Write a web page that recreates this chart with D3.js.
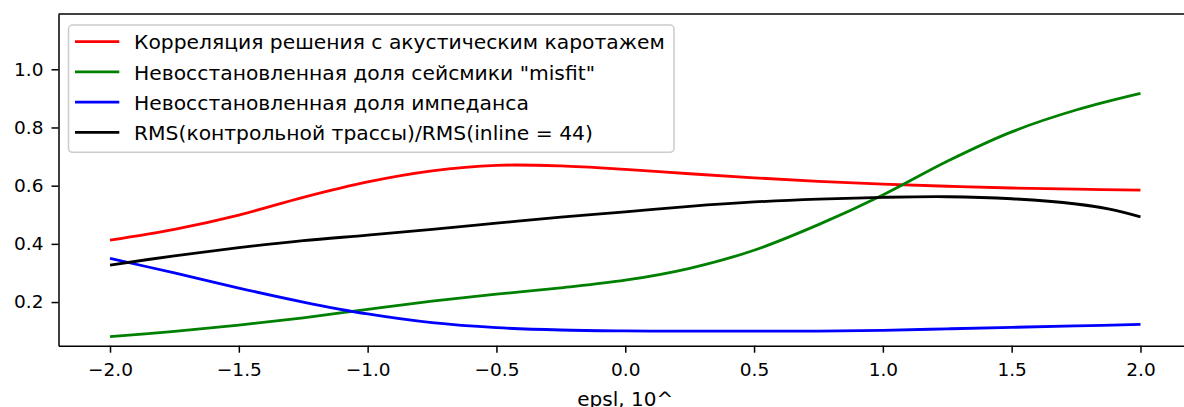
<!DOCTYPE html>
<html>
<head>
<meta charset="utf-8">
<script src="https://cdn.jsdelivr.net/npm/d3@7"></script>
<style>
  body { margin: 0; background: #fff; }
  svg { display: block; font-family: "DejaVu Sans", sans-serif; }
</style>
</head>
<body>
<div id="chart"></div>
<script>
// --- Data ---
const xs = [-2, -1.75, -1.5, -1.25, -1, -0.75, -0.5, -0.25, 0, 0.25, 0.5, 0.75, 1, 1.25, 1.5, 1.75, 2];

const corr   = [0.413, 0.450, 0.499, 0.560, 0.613, 0.651, 0.670, 0.668, 0.656, 0.641, 0.627, 0.615, 0.605, 0.598, 0.592, 0.588, 0.585];
const misfit = [0.081, 0.099, 0.121, 0.146, 0.175, 0.203, 0.227, 0.249, 0.275, 0.316, 0.378, 0.466, 0.568, 0.684, 0.785, 0.860, 0.917];
const imped  = [0.350, 0.300, 0.248, 0.200, 0.159, 0.129, 0.112, 0.104, 0.101, 0.100, 0.100, 0.100, 0.103, 0.108, 0.113, 0.118, 0.123];
const rmsX   = [-2, -1.75, -1.5, -1.25, -1, -0.75, -0.5, -0.25, 0, 0.25, 0.5, 0.75, 1, 1.25, 1.5, 1.75, 1.875, 2];
const rms    = [0.327, 0.359, 0.387, 0.411, 0.430, 0.450, 0.471, 0.492, 0.510, 0.529, 0.544, 0.554, 0.560, 0.562, 0.555, 0.537, 0.520, 0.493];

const seriesNames = [
  "Корреляция решения с акустическим каротажем",
  "Невосстановленная доля сейсмики \"misfit\"",
  "Невосстановленная доля импеданса",
  "RMS(контрольной трассы)/RMS(inline = 44)"
];
const seriesColors = ["#ff0000", "#008000", "#0000ff", "#000000"];
const xTicks = [-2, -1.5, -1, -0.5, 0, 0.5, 1, 1.5, 2];
const yTicks = [0.2, 0.4, 0.6, 0.8, 1.0];
const xLabel = "epsl, 10^";

const series = [
  { name: seriesNames[0], color: seriesColors[0], pts: xs.map((x, i) => [x, corr[i]]) },
  { name: seriesNames[1], color: seriesColors[1], pts: xs.map((x, i) => [x, misfit[i]]) },
  { name: seriesNames[2], color: seriesColors[2], pts: xs.map((x, i) => [x, imped[i]]) },
  { name: seriesNames[3], color: seriesColors[3], pts: rmsX.map((x, i) => [x, rms[i]]) }
];

// --- Dimensions ---
const W = 1184, H = 407;
const tickFont = 18.5;
const legendFont = 20.3;

const svg = d3.select("#chart").append("svg")
  .attr("width", W).attr("height", H);

// --- Scales ---
const x = d3.scaleLinear().domain([-2.2, 2.2]).range([58.5, 1192]);
const y = d3.scaleLinear().domain([0.05, 1.19]).range([345.7, 14]);

const fmt = d => d3.format(".1f")(d).replace("-", "\u2212");

// --- Lines ---
const line = d3.line()
  .x(d => x(d[0]))
  .y(d => y(d[1]))
  .curve(d3.curveCatmullRom.alpha(0.5));

svg.append("g").selectAll("path")
  .data(series)
  .join("path")
  .attr("d", d => line(d.pts))
  .attr("fill", "none")
  .attr("stroke", d => d.color)
  .attr("stroke-width", 2.8);

// --- Axes ---
const xAxis = svg.append("g")
  .attr("transform", `translate(0,${y.range()[0]})`)
  .call(d3.axisBottom(x).tickValues(xTicks).tickFormat(fmt).tickSize(7).tickPadding(10.5).tickSizeOuter(0));

const yAxis = svg.append("g")
  .attr("transform", `translate(${x.range()[0]},0)`)
  .call(d3.axisLeft(y).tickValues(yTicks).tickFormat(fmt).tickSize(7).tickPadding(8).tickSizeOuter(0));

[xAxis, yAxis].forEach(a => {
  a.select(".domain").attr("stroke", "#000").attr("stroke-width", 1.5);
  a.selectAll(".tick line").attr("stroke", "#000").attr("stroke-width", 1.5);
  a.selectAll(".tick text")
    .attr("fill", "#000")
    .style("font-size", tickFont + "px")
    .style("font-family", "DejaVu Sans");
});

// top / right spines
svg.append("line")
  .attr("x1", x.range()[0]).attr("x2", x.range()[1])
  .attr("y1", y.range()[1]).attr("y2", y.range()[1])
  .attr("stroke", "#000").attr("stroke-width", 1.5);
svg.append("line")
  .attr("x1", x.range()[1]).attr("x2", x.range()[1])
  .attr("y1", y.range()[0]).attr("y2", y.range()[1])
  .attr("stroke", "#000").attr("stroke-width", 1.5);

// x label
svg.append("text")
  .attr("x", x(0))
  .attr("y", 405.5)
  .attr("text-anchor", "middle")
  .style("font-size", "20px")
  .text(xLabel);

// --- Legend ---
const legend = svg.append("g");
legend.append("rect")
  .attr("x", 68.5).attr("y", 25)
  .attr("width", 605.5).attr("height", 127.3)
  .attr("rx", 4)
  .attr("fill", "#fff").attr("fill-opacity", 0.8)
  .attr("stroke", "#cccccc").attr("stroke-width", 1.5);

series.forEach((s, i) => {
  const g = legend.append("g").attr("transform", `translate(0,${41.7 + i * 30.2})`);
  g.append("line")
    .attr("x1", 75).attr("x2", 119.3)
    .attr("y1", 0).attr("y2", 0)
    .attr("stroke", s.color).attr("stroke-width", 2.8);
  g.append("text")
    .attr("x", 134).attr("y", 7.6)
    .style("font-size", legendFont + "px")
    .text(s.name);
});
</script>
</body>
</html>
